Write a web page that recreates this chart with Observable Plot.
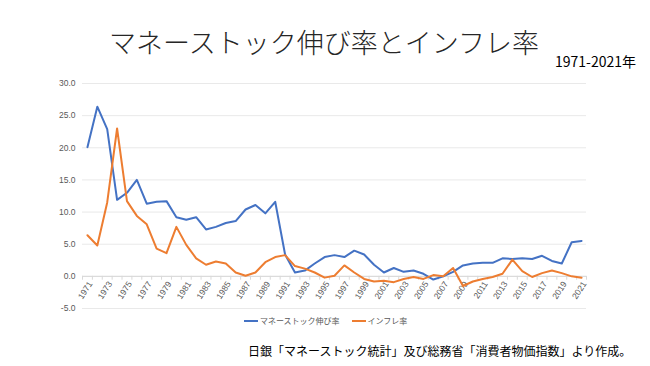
<!DOCTYPE html>
<html><head><meta charset="utf-8">
<script src="https://cdn.jsdelivr.net/npm/d3@7"></script>
<script src="https://cdn.jsdelivr.net/npm/@observablehq/plot@0.6"></script>
<style>
body{margin:0;background:#fff;}
#wrap{position:relative;width:650px;height:366px;overflow:hidden;font-family:"Noto Sans CJK JP",sans-serif;}
#chart{position:absolute;left:0;top:0;}
.abs{position:absolute;line-height:1;white-space:nowrap;}
#title{left:0;width:648px;text-align:center;top:28px;font-size:27px;color:#262626;font-weight:300;}
#subtitle{right:14px;top:54px;font-size:14px;color:#000;}
#legend{left:244px;top:317px;font-size:8px;color:#595959;display:flex;align-items:center;}
#legend .sw{display:inline-block;width:14px;height:2px;margin-right:2px;}
#legend .it{display:flex;align-items:center;margin-right:12px;}
#caption{left:248px;top:345px;font-size:12px;color:#000;}
</style></head>
<body>
<div id="wrap">
  <div id="chart"></div>
  <div id="title" class="abs"></div>
  <div id="subtitle" class="abs"></div>
  <div id="legend" class="abs"></div>
  <div id="caption" class="abs"></div>
</div>
<script>
const titleText = "マネーストック伸び率とインフレ率";
const subtitleText = "1971-2021年";
const captionText = "日銀「マネーストック統計」及び総務省「消費者物価指数」より作成。";
const seriesNames = ["マネーストック伸び率", "インフレ率"];
const seriesColors = ["#4472C4", "#ED7D31"];

const years = [1971,1972,1973,1974,1975,1976,1977,1978,1979,1980,
  1981,1982,1983,1984,1985,1986,1987,1988,1989,1990,
  1991,1992,1993,1994,1995,1996,1997,1998,1999,2000,
  2001,2002,2003,2004,2005,2006,2007,2008,2009,2010,
  2011,2012,2013,2014,2015,2016,2017,2018,2019,2020,2021];

const moneyGrowth = [20.1,26.4,22.9,11.9,13.0,15.0,11.3,11.6,11.7,9.2,
  8.8,9.2,7.3,7.7,8.3,8.6,10.4,11.1,9.8,11.6,
  3.4,0.6,0.9,2.0,3.0,3.3,3.0,4.0,3.4,1.8,
  0.6,1.3,0.7,0.9,0.4,-0.5,0.0,0.7,1.7,2.0,
  2.1,2.1,2.8,2.7,2.8,2.7,3.2,2.4,2.0,5.3,5.5];

const inflation = [6.4,4.8,11.5,23.0,11.7,9.4,8.1,4.3,3.6,7.7,
  4.9,2.8,1.8,2.3,2.0,0.6,0.1,0.6,2.2,3.0,
  3.3,1.6,1.2,0.6,-0.2,0.1,1.7,0.6,-0.4,-0.8,
  -0.7,-0.9,-0.4,-0.1,-0.4,0.2,0.0,1.3,-1.5,-0.8,
  -0.4,-0.1,0.4,2.6,0.8,-0.1,0.5,0.9,0.5,0.0,-0.2];

const yTicks = [-5,0,5,10,15,20,25,30];
const xTickLabels = [1971,1973,1975,1977,1979,1981,1983,1985,1987,1989,1991,1993,1995,1997,1999,2001,2003,2005,2007,2009,2011,2013,2015,2017,2019,2021];

const rows = [];
years.forEach((yr, i) => {
  rows.push({year: yr, value: moneyGrowth[i], series: seriesNames[0]});
  rows.push({year: yr, value: inflation[i], series: seriesNames[1]});
});
const boundaries = years.map(y => y - 0.5).concat([years[years.length - 1] + 0.5]);

const plot = Plot.plot({
  width: 650, height: 366,
  marginLeft: 82, marginRight: 64, marginTop: 83, marginBottom: 58,
  style: {fontFamily: "'Liberation Sans', sans-serif", background: "transparent"},
  x: {domain: [years[0] - 0.5, years[years.length - 1] + 0.5], axis: null},
  y: {domain: [-5, 30], axis: null},
  color: {domain: seriesNames, range: seriesColors},
  marks: [
    Plot.ruleY(yTicks, {stroke: "#e9e9e9", strokeWidth: 1}),
    Plot.ruleY([0], {stroke: "#d9d9d9", strokeWidth: 1}),
    Plot.ruleX(boundaries, {y1: 0, y2: -0.6, stroke: "#d9d9d9"}),
    Plot.text(yTicks, {y: d => d, frameAnchor: "left", text: d => d.toFixed(1), textAnchor: "end", dx: -7, fill: "#595959", fontSize: 8.5}),
    Plot.text(xTickLabels, {x: d => d, y: 0, text: d => String(d), rotate: -57, textAnchor: "end", dx: 3, dy: 6, fill: "#595959", fontSize: 8.5}),
    Plot.line(rows, {x: "year", y: "value", z: "series", stroke: "series", strokeWidth: 2})
  ]
});
document.getElementById("chart").appendChild(plot);

document.getElementById("title").textContent = titleText;
document.getElementById("subtitle").textContent = subtitleText;
document.getElementById("caption").textContent = captionText;
const legend = document.getElementById("legend");
seriesNames.forEach((n, i) => {
  const it = document.createElement("span");
  it.className = "it";
  const sw = document.createElement("span");
  sw.className = "sw";
  sw.style.background = seriesColors[i];
  const tx = document.createElement("span");
  tx.textContent = n;
  it.appendChild(sw); it.appendChild(tx);
  legend.appendChild(it);
});
</script>
</body></html>
